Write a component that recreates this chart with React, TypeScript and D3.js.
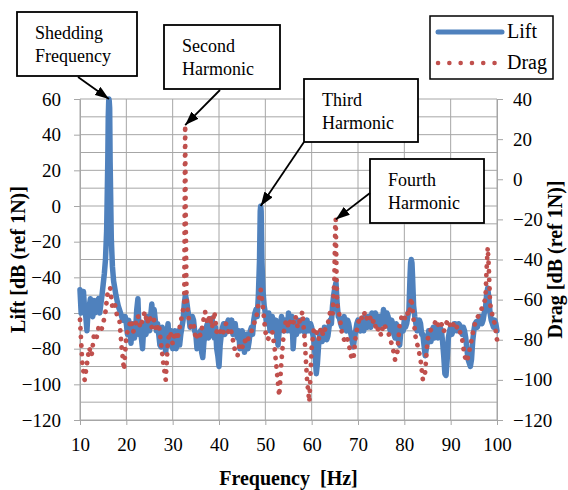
import { useEffect, useRef } from "react";
import * as d3 from "d3";

// frequency grid of the base spectra: 10..100 Hz, 0.5 Hz step
const freqStart = 10;
const freqStep = 0.5;

// Lift [dB ref 1N], left axis, at 10, 10.5, ... 100 Hz
const liftDb = [
  -47, -55, -58, -70, -56, -60, -53, -58, -52, -55,
  -44, -30, 25, 25, -34, -46, -53, -58, -62, -63,
  -66, -64, -77, -66, -70, -52, -68, -80, -66, -62,
  -70, -55, -58, -70, -72, -79, -70, -82, -66, -73,
  -80, -70, -76, -78, -68, -55, -53, -62, -67, -64,
  -72, -78, -70, -85, -73, -66, -72, -63, -74, -80,
  -90, -72, -66, -70, -64, -68, -72, -66, -74, -80,
  -70, -82, -72, -76, -68, -64, -58, -50, 0, -48,
  -60, -64, -70, -62, -68, -74, -70, -62, -70, -66,
  -60, -66, -80, -66, -64, -70, -66, -71, -64, -70,
  -68, -76, -94, -78, -70, -74, -70, -73, -64, -56,
  -46, -55, -63, -68, -62, -70, -66, -72, -79, -70,
  -64, -70, -66, -62, -68, -64, -60, -66, -62, -68,
  -63, -58, -66, -62, -70, -66, -74, -70, -78, -68,
  -64, -66, -58, -30, -56, -66, -68, -66, -72, -84,
  -76, -72, -70, -74, -68, -72, -70, -84, -95, -74,
  -68, -70, -66, -70, -67, -72, -70, -80, -88, -86,
  -70, -65, -66, -62, -64, -58, -46, -60, -66, -64,
  -70,
];
// Lift at the in-between points 10.25, 10.75, ... 99.75 Hz
const liftMidDb = [
  -60, -48, -62, -58, -52, -62, -60, -53, -60, -50,
  -38, -14, 60, -18, -42, -50, -56, -60, -64, -62,
  -72, -70, -68, -74, -58, -72, -74, -68, -72, -66,
  -62, -66, -64, -66, -78, -68, -76, -72, -78, -70,
  -72, -80, -70, -72, -64, -50, -58, -68, -62, -70,
  -80, -72, -82, -76, -68, -74, -66, -70, -68, -84,
  -78, -68, -72, -66, -70, -64, -68, -72, -70, -76,
  -78, -74, -80, -70, -72, -60, -62, -30, -30, -56,
  -66, -60, -66, -70, -64, -78, -66, -68, -64, -70,
  -70, -62, -70, -72, -68, -64, -70, -66, -70, -66,
  -72, -84, -88, -72, -76, -68, -75, -68, -66, -50,
  -43, -62, -66, -64, -68, -64, -70, -76, -74, -66,
  -68, -64, -70, -66, -62, -68, -64, -60, -66, -62,
  -66, -62, -60, -68, -64, -72, -66, -76, -70, -70,
  -68, -62, -38, -38, -62, -70, -64, -72, -78, -80,
  -70, -76, -68, -70, -74, -68, -76, -94, -86, -70,
  -72, -66, -70, -66, -70, -68, -74, -86, -90, -76,
  -66, -68, -62, -66, -60, -50, -52, -64, -68, -66,
];
// extra points at the tops of the narrow peaks
const liftPeakFreq = [16.1, 16.2, 16.3, 16.4, 48.9, 49.1, 81.35, 81.65];
const liftPeakDb = [50, 59, 59, 55, -3, -3, -32, -32];

// Drag [dB ref 1N], right axis, at 10, 10.5, ... 100 Hz
const dragDb = [
  -70, -92, -100, -92, -84, -88, -78, -80, -74, -76,
  -72, -66, -56, -54, -64, -62, -68, -70, -84, -95,
  -78, -74, -70, -76, -72, -68, -74, -70, -66, -72,
  -68, -74, -70, -76, -72, -82, -92, -100, -80, -76,
  -82, -76, -80, -74, -68, -62, -60, -70, -74, -72,
  -80, -76, -78, -72, -66, -72, -68, -74, -66, -76,
  -74, -78, -76, -72, -76, -74, -80, -86, -88, -82,
  -84, -80, -82, -78, -76, -72, -70, -62, -55, -64,
  -76, -80, -78, -76, -84, -96, -108, -90, -76, -70,
  -74, -70, -72, -68, -74, -70, -66, -80, -100, -111,
  -84, -74, -76, -80, -74, -78, -74, -72, -66, -68,
  -35, -62, -68, -76, -80, -78, -82, -88, -90, -78,
  -72, -68, -70, -66, -70, -68, -72, -70, -76, -74,
  -78, -72, -74, -76, -80, -84, -90, -86, -72, -68,
  -70, -66, -68, -59, -70, -80, -84, -90, -100, -96,
  -80, -76, -74, -72, -70, -74, -72, -76, -72, -70,
  -74, -72, -75, -73, -76, -80, -88, -91, -86, -80,
  -74, -70, -68, -66, -62, -60, -34, -62, -68, -72,
  -80,
];
const dragPeakFreq = [32.6, 32.7, 32.8, 64.9, 65.1, 65.2, 65.35, 97.75, 98.25];
const dragPeakDb = [-10, 27, -15, -50, -22, -20, -45, -45, -45];

const freqTicks = [10, 20, 30, 40, 50, 60, 70, 80, 90, 100];
const liftTicks = [-120, -100, -80, -60, -40, -20, 0, 20, 40, 60];
const dragTicks = [-120, -100, -80, -60, -40, -20, 0, 20, 40];

// callouts: text lines and the point they point at
const callouts = [
  { lines: ["Shedding", "Frequency"], f: 16.25, v: 60, axis: "lift", box: [17, 12, 120, 64], from: [78, 77] },
  { lines: ["Second", "Harmonic"], f: 32.7, v: 27, axis: "drag", box: [164, 25, 116, 64], from: [220, 90] },
  { lines: ["Third", "Harmonic"], f: 49.0, v: 0, axis: "lift", box: [304, 79, 114, 63], from: [304, 142] },
  { lines: ["Fourth", "Harmonic"], f: 65.2, v: -20, axis: "drag", box: [370, 159, 114, 64], from: [370, 193] },
];

const BLUE = "#4F81BD";
const RED = "#C0504D";
const GRID = "#a6a6a6";
const FONT = "'Liberation Serif', 'Times New Roman', serif";

const App = () => {
  const svgRef = useRef(null);

  useEffect(() => {
    const W = 568;
    const H = 490;
    const margin = { top: 99, right: 71, bottom: 70, left: 80 };
    const width = W - margin.left - margin.right;
    const height = H - margin.top - margin.bottom;

    const root = d3.select(svgRef.current);
    root.selectAll("*").remove();
    root.attr("width", W).attr("height", H).style("font-family", FONT);

    const defs = root.append("defs");
    defs
      .append("marker")
      .attr("id", "arrow")
      .attr("markerUnits", "userSpaceOnUse")
      .attr("viewBox", "0 0 14 10")
      .attr("refX", 14)
      .attr("refY", 5)
      .attr("markerWidth", 14)
      .attr("markerHeight", 10)
      .attr("orient", "auto")
      .append("path")
      .attr("d", "M0,0 L14,5 L0,10 Z")
      .attr("fill", "#000");

    const svg = root.append("g").attr("transform", `translate(${margin.left},${margin.top})`);

    const x = d3.scaleLinear().domain([10, 100]).range([0, width]);
    const yL = d3.scaleLinear().domain([-120, 60]).range([height, 0]);
    const yR = d3.scaleLinear().domain([-120, 40]).range([height, 0]);

    // grid
    svg
      .append("g")
      .selectAll("line")
      .data(d3.range(-120, 61, 10))
      .enter()
      .append("line")
      .attr("x1", 0)
      .attr("x2", width)
      .attr("y1", (d) => yL(d))
      .attr("y2", (d) => yL(d))
      .attr("stroke", GRID)
      .attr("stroke-width", 1);
    svg
      .append("g")
      .selectAll("line")
      .data(freqTicks)
      .enter()
      .append("line")
      .attr("x1", (d) => x(d))
      .attr("x2", (d) => x(d))
      .attr("y1", 0)
      .attr("y2", height)
      .attr("stroke", GRID)
      .attr("stroke-width", 1);

    // axes
    const styleAxis = (g) => {
      g.attr("font-family", null);
      g.selectAll(".domain").attr("stroke", GRID);
      g.selectAll(".tick line").attr("stroke", GRID);
      g.selectAll("text").attr("fill", "#000").style("font-family", FONT).style("font-size", "19px");
    };
    svg
      .append("g")
      .call(d3.axisLeft(yL).tickValues(liftTicks).tickSize(6).tickSizeOuter(0).tickPadding(13))
      .call(styleAxis);
    svg
      .append("g")
      .attr("transform", `translate(${width},0)`)
      .call(d3.axisRight(yR).tickValues(dragTicks).tickSize(6).tickSizeOuter(0).tickPadding(10))
      .call(styleAxis);
    svg
      .append("g")
      .attr("transform", `translate(0,${height})`)
      .call(d3.axisBottom(x).tickValues(freqTicks).tickSize(5).tickSizeOuter(0).tickPadding(13))
      .call(styleAxis);

    // series
    const liftData = liftDb
      .map((v, i) => [freqStart + i * freqStep, v])
      .concat(liftMidDb.map((v, i) => [freqStart + freqStep / 2 + i * freqStep, v]))
      .concat(liftPeakFreq.map((f, i) => [f, liftPeakDb[i]]))
      .sort((a, b) => a[0] - b[0]);
    const dragData = dragDb
      .map((v, i) => [freqStart + i * freqStep, v])
      .concat(dragPeakFreq.map((f, i) => [f, dragPeakDb[i]]))
      .sort((a, b) => a[0] - b[0]);

    const liftLine = d3.line().x((d) => x(d[0])).y((d) => yL(d[1]));
    const dragLine = d3.line().x((d) => x(d[0])).y((d) => yR(d[1]));

    svg
      .append("path")
      .datum(liftData)
      .attr("d", liftLine)
      .attr("fill", "none")
      .attr("stroke", BLUE)
      .attr("stroke-width", 5.5)
      .attr("stroke-linejoin", "round")
      .attr("stroke-linecap", "round");

    svg
      .append("path")
      .datum(dragData)
      .attr("d", dragLine)
      .attr("fill", "none")
      .attr("stroke", RED)
      .attr("stroke-width", 4.8)
      .attr("stroke-linecap", "round")
      .attr("stroke-dasharray", "0.1 8.5");

    // axis titles
    const title = (sel) =>
      sel.style("font-family", FONT).style("font-size", "20px").style("font-weight", "bold");
    root
      .append("text")
      .attr("transform", `translate(18,${margin.top + height / 2}) rotate(-90)`)
      .attr("text-anchor", "middle")
      .attr("dominant-baseline", "central")
      .call(title)
      .text("Lift [dB (ref 1N)]");
    root
      .append("text")
      .attr("transform", `translate(555,${margin.top + height / 2}) rotate(-90)`)
      .attr("text-anchor", "middle")
      .attr("dominant-baseline", "central")
      .call(title)
      .text("Drag [dB (ref 1N)]");
    root
      .append("text")
      .attr("x", margin.left + width / 2)
      .attr("y", 485)
      .attr("text-anchor", "middle")
      .call(title)
      .text("Frequency \u00a0[Hz]");

    // callouts
    callouts.forEach((c) => {
      const [bx, by, bw, bh] = c.box;
      root
        .append("rect")
        .attr("x", bx)
        .attr("y", by)
        .attr("width", bw)
        .attr("height", bh)
        .attr("fill", "#fff")
        .attr("stroke", "#000")
        .attr("stroke-width", 1.8);
      c.lines.forEach((t, i) => {
        root
          .append("text")
          .attr("x", bx + 18)
          .attr("y", by + 27 + i * 22.5)
          .style("font-family", FONT)
          .style("font-size", "18px")
          .text(t);
      });
      const tx = margin.left + x(c.f);
      const ty = margin.top + (c.axis === "lift" ? yL(c.v) : yR(c.v));
      root
        .append("line")
        .attr("x1", c.from[0])
        .attr("y1", c.from[1])
        .attr("x2", tx)
        .attr("y2", ty)
        .attr("stroke", "#000")
        .attr("stroke-width", 1.8)
        .attr("marker-end", "url(#arrow)");
    });

    // legend
    const lg = root.append("g").attr("transform", "translate(430,16)");
    lg.append("rect")
      .attr("width", 123)
      .attr("height", 63)
      .attr("fill", "#fff")
      .attr("stroke", "#000")
      .attr("stroke-width", 1.5);
    lg.append("line")
      .attr("x1", 8).attr("x2", 72).attr("y1", 16).attr("y2", 16)
      .attr("stroke", BLUE).attr("stroke-width", 5).attr("stroke-linecap", "round");
    lg.append("line")
      .attr("x1", 8).attr("x2", 68).attr("y1", 47).attr("y2", 47)
      .attr("stroke", RED).attr("stroke-width", 4.5).attr("stroke-linecap", "round")
      .attr("stroke-dasharray", "0.1 11.2");
    lg.append("text").attr("x", 77).attr("y", 22)
      .style("font-family", FONT).style("font-size", "20px").text("Lift");
    lg.append("text").attr("x", 77).attr("y", 53)
      .style("font-family", FONT).style("font-size", "20px").text("Drag");
  }, []);

  return (
    <div style={{ position: "absolute", left: 0, top: 0 }}>
      <svg ref={svgRef} style={{ display: "block" }}></svg>
    </div>
  );
};

export default App;
